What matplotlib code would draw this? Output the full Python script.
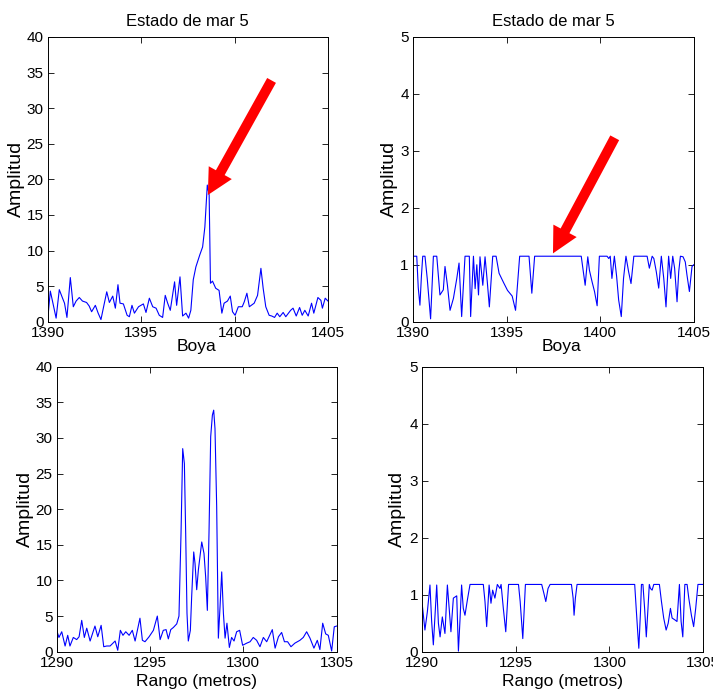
import matplotlib
matplotlib.use('Agg')
import matplotlib.pyplot as plt

plt.rcParams['font.family'] = 'Liberation Sans'

# buoy window, raw amplitude (sea state 5)
boya_x = [1390.00, 1390.14, 1390.28, 1390.45, 1390.62, 1390.78, 1390.90, 1391.03, 1391.21, 1391.37,
          1391.52, 1391.69, 1391.86, 1392.08, 1392.22, 1392.35, 1392.55, 1392.70, 1392.85, 1393.00,
          1393.16, 1393.30, 1393.48, 1393.62, 1393.76, 1393.87, 1394.05, 1394.25, 1394.37, 1394.51,
          1394.64, 1394.86, 1395.12, 1395.26, 1395.44, 1395.62, 1395.80, 1395.97, 1396.15, 1396.29,
          1396.42, 1396.56, 1396.79, 1396.90, 1397.08, 1397.22, 1397.40, 1397.54, 1397.66, 1397.79,
          1397.93, 1398.14, 1398.29, 1398.41, 1398.54, 1398.64, 1398.71, 1398.82, 1398.99, 1399.17,
          1399.32, 1399.44, 1399.62, 1399.77, 1399.89, 1400.03, 1400.20, 1400.41, 1400.52, 1400.66,
          1400.79, 1401.05, 1401.23, 1401.41, 1401.53, 1401.67, 1401.85, 1401.99, 1402.14, 1402.28,
          1402.42, 1402.60, 1402.74, 1403.00, 1403.13, 1403.30, 1403.48, 1403.62, 1403.76, 1403.94,
          1404.12, 1404.24, 1404.46, 1404.62, 1404.70, 1404.85, 1405.00]
boya_amp = [0.3, 4.3, 2.6, 0.5, 4.5, 3.4, 2.6, 0.6, 6.2, 2.1,
            2.9, 3.4, 2.9, 2.7, 2.2, 1.4, 2.3, 1.2, 0.3, 2.2,
            4.2, 2.7, 3.6, 1.9, 5.2, 2.6, 2.5, 0.9, 0.7, 2.3,
            1.2, 2.1, 2.5, 1.3, 3.3, 2.1, 1.9, 0.9, 0.6, 3.7,
            2.6, 1.6, 5.6, 2.3, 6.3, 0.8, 1.2, 0.5, 1.6, 5.9,
            7.7, 9.4, 10.5, 13.3, 19.2, 17.8, 5.4, 5.7, 4.7, 4.4,
            1.2, 2.6, 2.9, 3.6, 1.4, 0.9, 2.1, 2.1, 2.8, 4.0,
            2.1, 2.6, 3.7, 7.5, 4.7, 2.1, 0.9, 0.8, 0.6, 1.2,
            0.7, 1.3, 0.7, 1.6, 1.9, 0.8, 2.0, 0.9, 1.6, 0.8,
            2.6, 1.2, 3.4, 3.0, 1.9, 3.3, 2.9]

# buoy window, clipped amplitude
boya_clip_x = [1390.00, 1390.20, 1390.28, 1390.37, 1390.45, 1390.52, 1390.64, 1390.76, 1390.94, 1391.09,
               1391.27, 1391.44, 1391.62, 1391.71, 1391.84, 1391.98, 1392.16, 1392.34, 1392.46, 1392.60,
               1392.78, 1393.01, 1393.08, 1393.23, 1393.32, 1393.41, 1393.50, 1393.58, 1393.73, 1393.85,
               1393.97, 1394.08, 1394.26, 1394.44, 1394.60, 1394.85, 1395.05, 1395.30, 1395.48, 1395.70,
               1396.20, 1396.35, 1396.50, 1398.99, 1399.20, 1399.34, 1399.43, 1399.57, 1399.70, 1399.84,
               1399.96, 1400.37, 1400.46, 1400.54, 1400.63, 1400.76, 1400.88, 1400.99, 1401.13, 1401.25,
               1401.38, 1401.52, 1401.65, 1401.80, 1402.51, 1402.63, 1402.78, 1402.87, 1403.00, 1403.13,
               1403.27, 1403.40, 1403.52, 1403.66, 1403.77, 1403.88, 1403.98, 1404.11, 1404.20, 1404.29,
               1404.43, 1404.55, 1404.64, 1404.77, 1404.91, 1405.00]
boya_clip_amp = [1.15, 1.15, 0.60, 0.29, 0.80, 1.15, 1.15, 0.76, 0.05, 1.15,
                 1.15, 0.47, 0.56, 0.97, 0.64, 0.20, 0.41, 0.76, 1.03, 0.09,
                 1.15, 1.15, 0.09, 1.15, 0.58, 1.00, 0.47, 1.14, 0.64, 1.14,
                 0.70, 0.26, 1.15, 1.15, 0.85, 0.68, 0.55, 0.45, 0.20, 1.15,
                 1.15, 0.50, 1.15, 1.15, 0.64, 1.14, 0.90, 0.70, 0.53, 0.28,
                 1.15, 1.15, 1.11, 1.15, 0.76, 1.15, 0.80, 0.38, 0.09, 0.76,
                 1.15, 0.88, 0.67, 1.15, 1.15, 0.94, 1.15, 1.11, 0.88, 0.59,
                 1.15, 0.76, 0.26, 1.15, 0.76, 1.15, 0.94, 0.35, 0.88, 1.15,
                 1.14, 1.05, 0.82, 0.53, 0.97, 1.00]

# range window in metres, raw amplitude
rango_x = [1290.00, 1290.12, 1290.27, 1290.45, 1290.59, 1290.71, 1290.89, 1291.07, 1291.20, 1291.34,
           1291.48, 1291.61, 1291.79, 1292.05, 1292.20, 1292.38, 1292.52, 1292.68, 1292.86, 1293.13,
           1293.27, 1293.41, 1293.55, 1293.70, 1293.88, 1294.05, 1294.20, 1294.46, 1294.59, 1294.73,
           1294.95, 1295.18, 1295.39, 1295.54, 1295.71, 1295.86, 1295.98, 1296.11, 1296.25, 1296.43,
           1296.55, 1296.66, 1296.75, 1296.84, 1296.91, 1296.98, 1297.05, 1297.16, 1297.23, 1297.34,
           1297.41, 1297.50, 1297.59, 1297.77, 1297.89, 1297.98, 1298.07, 1298.16, 1298.25, 1298.34,
           1298.41, 1298.48, 1298.57, 1298.66, 1298.75, 1298.84, 1298.93, 1299.02, 1299.12, 1299.25,
           1299.37, 1299.50, 1299.64, 1299.80, 1299.96, 1300.18, 1300.36, 1300.53, 1300.71, 1300.89,
           1301.07, 1301.25, 1301.55, 1301.70, 1301.88, 1302.05, 1302.20, 1302.37, 1302.55, 1302.76,
           1303.03, 1303.21, 1303.39, 1303.57, 1303.78, 1303.96, 1304.10, 1304.25, 1304.41, 1304.55,
           1304.73, 1304.87, 1305.00]
rango_amp = [3.0, 2.0, 2.8, 0.8, 2.3, 0.8, 2.0, 1.7, 2.1, 4.4,
             2.0, 3.3, 1.5, 3.6, 2.1, 3.7, 0.7, 0.8, 0.8, 1.5,
             0.2, 3.0, 2.3, 2.8, 2.3, 3.0, 1.5, 4.7, 1.6, 1.4,
             2.1, 3.0, 5.0, 1.7, 3.0, 3.1, 1.8, 3.1, 3.4, 3.9,
             5.0, 16.6, 28.5, 26.4, 16.6, 5.4, 1.5, 3.0, 7.7, 14.0,
             12.4, 8.7, 11.5, 15.4, 13.8, 10.5, 5.8, 16.8, 30.2, 33.2,
             33.9, 31.3, 20.4, 1.9, 6.3, 11.2, 5.4, 1.9, 4.0, 0.6,
             2.0, 1.5, 2.8, 3.0, 0.9, 1.2, 1.4, 2.0, 1.6, 0.7,
             2.0, 1.4, 3.1, 0.5, 2.1, 2.7, 1.4, 1.4, 0.7, 1.2,
             1.6, 2.0, 2.8, 1.9, 0.5, 1.6, 0.3, 4.0, 2.5, 2.3,
             0.1, 3.5, 3.6]

# range window in metres, clipped amplitude
rango_clip_x = [1290.00, 1290.14, 1290.27, 1290.41, 1290.50, 1290.59, 1290.68, 1290.77, 1290.86, 1290.95,
                1291.07, 1291.21, 1291.34, 1291.45, 1291.53, 1291.66, 1291.84, 1291.93, 1292.01, 1292.10,
                1292.19, 1292.28, 1292.41, 1292.55, 1293.26, 1293.35, 1293.44, 1293.57, 1293.67, 1293.76,
                1293.88, 1294.01, 1294.15, 1294.21, 1294.33, 1294.46, 1294.61, 1295.14, 1295.23, 1295.37,
                1295.51, 1296.38, 1296.50, 1296.60, 1296.72, 1296.83, 1297.97, 1298.06, 1298.11, 1298.18,
                1298.27, 1301.35, 1301.43, 1301.51, 1301.57, 1301.66, 1301.71, 1301.79, 1301.88, 1301.97,
                1302.06, 1302.13, 1302.19, 1302.28, 1302.37, 1302.67, 1302.78, 1302.90, 1303.03, 1303.14,
                1303.26, 1303.35, 1303.49, 1303.61, 1303.74, 1303.83, 1303.92, 1304.03, 1304.15, 1304.24,
                1304.38, 1304.50, 1304.61, 1304.73, 1305.00]
rango_clip_amp = [0.82, 0.38, 0.70, 1.17, 0.53, 0.12, 0.64, 1.17, 0.50, 0.26,
                  0.61, 0.32, 1.17, 0.70, 0.35, 0.94, 0.98, 0.01, 0.53, 1.17,
                  0.76, 0.64, 0.91, 1.18, 1.18, 0.88, 0.44, 1.17, 0.85, 1.08,
                  0.94, 1.18, 1.11, 1.18, 0.76, 0.35, 1.18, 1.18, 0.88, 0.23,
                  1.18, 1.18, 1.02, 0.88, 1.11, 1.18, 1.18, 0.94, 0.64, 0.94,
                  1.18, 1.18, 0.76, 0.35, 0.06, 0.70, 1.18, 1.18, 0.76, 0.26,
                  0.76, 1.18, 1.11, 1.08, 1.18, 1.18, 0.88, 0.59, 0.38, 0.50,
                  0.76, 0.59, 0.56, 0.53, 1.18, 0.53, 0.26, 1.18, 1.18, 0.94,
                  0.64, 0.44, 0.76, 1.18, 1.18]

W, H = 713, 694
fig = plt.figure(figsize=(W / 100, H / 100), dpi=100)


def make_axes(left, top, right, bottom):
    return fig.add_axes([left / W, 1 - bottom / H, (right - left) / W, (bottom - top) / H])


def style(ax, xlim, ylim, yticks):
    ax.set_xlim(*xlim)
    ax.set_ylim(*ylim)
    ax.set_xticks(range(xlim[0], xlim[1] + 1, 5))
    ax.set_yticks(yticks)
    ax.tick_params(direction='in', top=True, right=True, length=4, width=0.6,
                   labelsize=11, pad=3)
    for s in ax.spines.values():
        s.set_linewidth(0.7)


ax1 = make_axes(47.7, 37, 328, 321.7)
ax2 = make_axes(413, 37, 693.7, 321.7)
ax3 = make_axes(56.7, 366.7, 336.7, 651.7)
ax4 = make_axes(422.3, 366.7, 703, 651.7)

ax1.plot(boya_x, boya_amp, color='blue', lw=0.8)
ax2.plot(boya_clip_x, boya_clip_amp, color='blue', lw=0.8)
ax3.plot(rango_x, rango_amp, color='blue', lw=0.8)
ax4.plot(rango_clip_x, rango_clip_amp, color='blue', lw=0.8)

style(ax1, (1390, 1405), (0, 40), range(0, 41, 5))
style(ax2, (1390, 1405), (0, 5), range(0, 6))
style(ax3, (1290, 1305), (0, 40), range(0, 41, 5))
style(ax4, (1290, 1305), (0, 5), range(0, 6))

for ax in (ax1, ax2):
    ax.set_title('Estado de mar 5', fontsize=12, pad=8)
    ax.set_xlabel('Boya', fontsize=12.5)
    ax.xaxis.set_label_coords(0.53, -0.06)
for ax in (ax3, ax4):
    ax.set_xlabel('Rango (metros)', fontsize=12.5)
    ax.xaxis.set_label_coords(0.5, -0.078)

for ax, xl in ((ax1, -0.081), (ax2, -0.053), (ax3, -0.081), (ax4, -0.057)):
    ax.set_ylabel('Amplitud', fontsize=14)
    ax.yaxis.set_label_coords(xl, 0.5)

# red arrows pointing at the buoy return
arrow = dict(arrowstyle='simple,head_length=0.92,head_width=0.95,tail_width=0.36',
             fc='red', ec='red', lw=0, shrinkA=0, shrinkB=0, mutation_scale=20)
ax1.annotate('', xy=(1398.57, 17.8), xytext=(1401.98, 33.9), arrowprops=arrow)
ax2.annotate('', xy=(1397.48, 1.20), xytext=(1400.78, 3.23), arrowprops=arrow)

fig.savefig('out.png', dpi=100)
